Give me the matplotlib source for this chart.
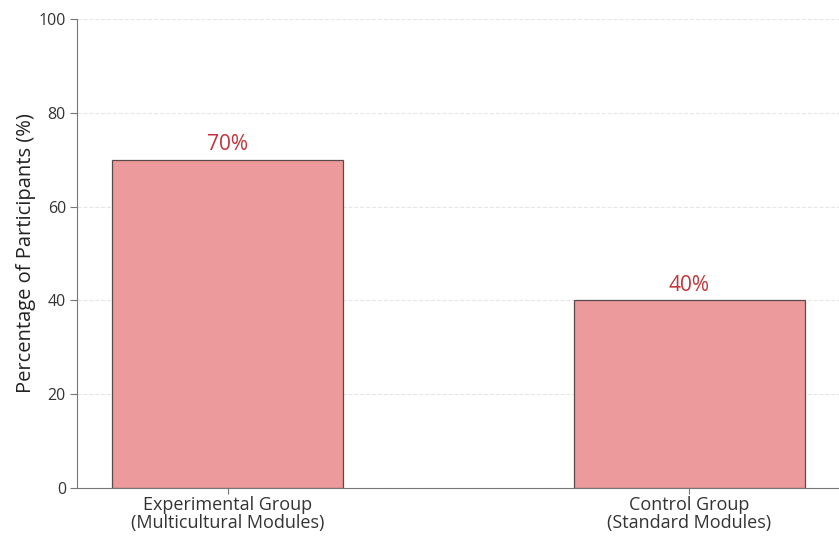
import matplotlib.pyplot as plt
import numpy as np

groups = ['Experimental Group\n(Multicultural Modules)', 'Control Group\n(Standard Modules)']
percentages = [70, 40]
yticks = [0, 20, 40, 60, 80, 100]

plt.rcParams['font.family'] = ['Open Sans', 'DejaVu Sans']

fig = plt.figure(figsize=(8.39, 5.42), dpi=100)
ax = fig.add_axes([0.0918, 0.0996, 0.9082, 0.8654])

x = np.arange(len(groups))
bars = ax.bar(x, percentages, width=0.5, color='#ec9a9b', edgecolor='#5a4a4a', linewidth=0.9, zorder=3)

for rect, val in zip(bars, percentages):
    ax.text(rect.get_x() + rect.get_width() / 2, val + 1.0, f'{val}%',
            ha='center', va='bottom', fontsize=15, color='#c0353a')

ax.set_xlim(-0.326, 1.324)
ax.set_ylim(0, 100)
ax.set_yticks(yticks)
ax.set_xticks(x)
ax.set_xticklabels(groups, fontsize=13, color='#333333', linespacing=0.95)
ax.tick_params(axis='y', labelsize=11.5, labelcolor='#333333', length=5, color='#777777', pad=3)
ax.tick_params(axis='x', length=4, color='#777777', pad=2)
ax.set_ylabel('Percentage of Participants (%)', fontsize=14.5, color='#222222', labelpad=2)

ax.yaxis.grid(True, linestyle='--', color='#e6e6e6', linewidth=0.8, zorder=0)
ax.spines['top'].set_visible(False)
ax.spines['right'].set_visible(False)
ax.spines['left'].set_color('#777777')
ax.spines['bottom'].set_color('#777777')

fig.savefig('out.png', dpi=100)
